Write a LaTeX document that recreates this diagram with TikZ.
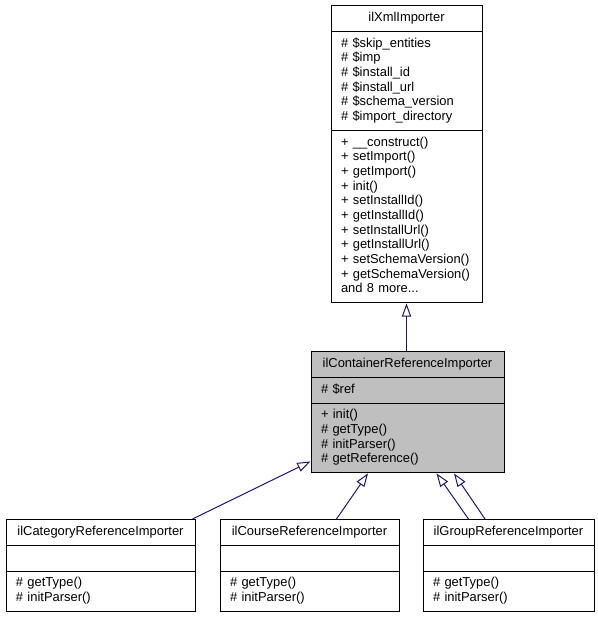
\documentclass[tikz,border=0pt]{standalone}
\usepackage{fontspec}
\setmainfont{Liberation Sans}
\usepackage{tikz}
\usetikzlibrary{shapes,arrows,arrows.meta,calc}
\definecolor{edgecolor}{RGB}{25,25,112}
\definecolor{basecolor}{RGB}{191,191,191}
\tikzstyle{classbox} = [draw, rectangle split, rectangle split parts=3, line width=0.75pt,
    inner xsep=7.5pt, inner ysep=3.8pt, font=\fontsize{9.7}{11}\selectfont]
\tikzstyle{inherit} = [draw=edgecolor, line width=0.75pt, -{Triangle[open, length=10pt, width=7pt]}]

\begin{document}
\begin{tikzpicture}[x=0.75pt, y=-0.75pt]
\useasboundingbox (0,0) rectangle (597,617);

%% Base class %%
\node [classbox, text width=98.25pt, anchor=north] (XmlImporter) at (406.5,5)
{\centering\strut ilXmlImporter\strut\par
\nodepart{two}\raggedright\strut \# \$skip\_entities\\ \# \$imp\\ \# \$install\_id\\ \# \$install\_url\\ \# \$schema\_version\\ \# \$import\_directory\strut
\nodepart{three}\raggedright\strut + \_\_construct()\\ + setImport()\\ + getImport()\\ + init()\\ + setInstallId()\\ + getInstallId()\\ + setInstallUrl()\\ + getInstallUrl()\\ + setSchemaVersion()\\ + getSchemaVersion()\\ and 8 more...\strut};

%% Container reference importer %%
\node [classbox, fill=basecolor, text width=129.75pt, anchor=north] (ContainerRef) at (407.5,351)
{\centering\strut ilContainerReferenceImporter\strut\par
\nodepart{two}\raggedright\strut \# \$ref\strut
\nodepart{three}\raggedright\strut + init()\\ \# getType()\\ \# initParser()\\ \# getReference()\strut};

%% Derived classes %%
\node [classbox, text width=126.75pt, anchor=north] (CategoryRef) at (100.5,519)
{\centering\strut ilCategoryReferenceImporter\strut\par
\nodepart{two}\strut
\nodepart{three}\raggedright\strut \# getType()\\ \# initParser()\strut};
\node [classbox, text width=119.25pt, anchor=north] (CourseRef) at (309.5,519)
{\centering\strut ilCourseReferenceImporter\strut\par
\nodepart{two}\strut
\nodepart{three}\raggedright\strut \# getType()\\ \# initParser()\strut};
\node [classbox, text width=113.25pt, anchor=north] (GroupRef) at (508.5,519)
{\centering\strut ilGroupReferenceImporter\strut\par
\nodepart{two}\strut
\nodepart{three}\raggedright\strut \# getType()\\ \# initParser()\strut};

%% Inheritance %%
\draw[inherit] (ContainerRef.north -| XmlImporter.south) -- (XmlImporter.south);
\draw[inherit] ($(CategoryRef.north east)+(-3,0)$) -- ($(ContainerRef.south west)+(0,-12)$);
\draw[inherit] ($(CourseRef.north)+(27,0)$) -- ($(ContainerRef.south)+(-39.5,0)$);
\draw[inherit] ($(GroupRef.north)+(-40,0)$) -- ($(ContainerRef.south)+(29,0)$);
\draw[inherit] ($(GroupRef.north)+(-23.5,0)$) -- ($(ContainerRef.south)+(46.5,0)$);

\end{tikzpicture}
\end{document}
